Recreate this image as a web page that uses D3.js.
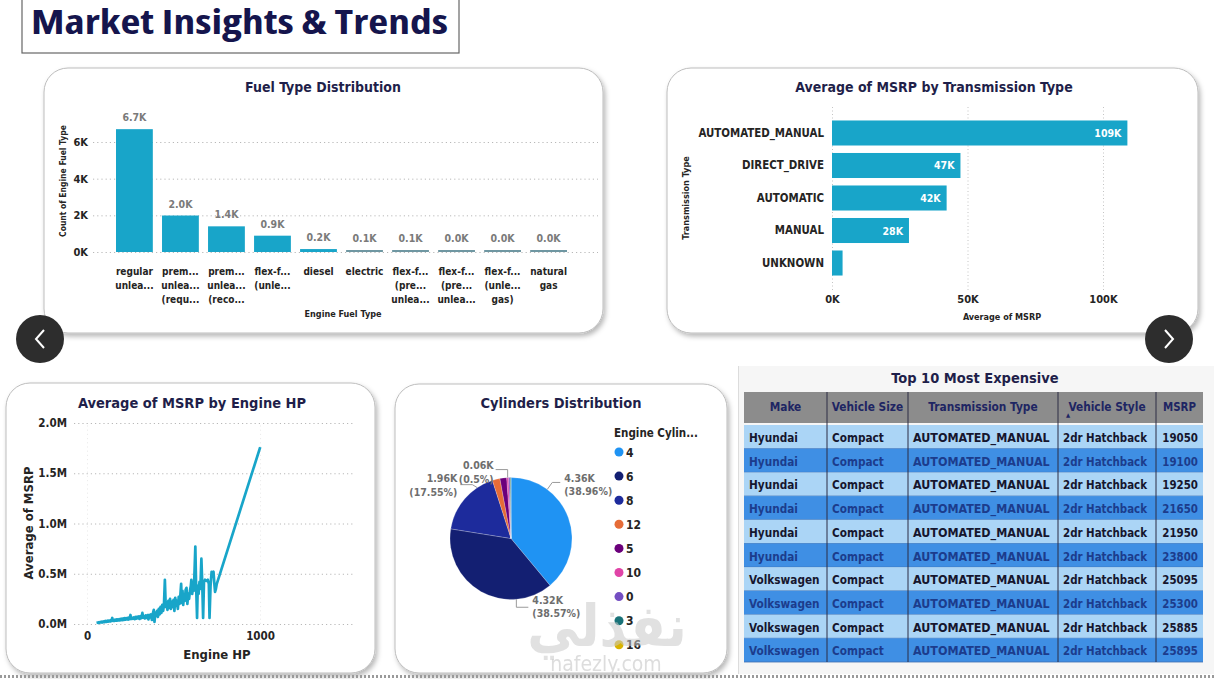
<!DOCTYPE html>
<html><head><meta charset="utf-8">
<script src="https://cdn.jsdelivr.net/npm/d3@7"></script>
<style>
body{margin:0;background:#fff;}
svg{display:block;font-family:"DejaVu Sans Condensed","DejaVu Sans",sans-serif;font-stretch:condensed;}
</style></head><body>
<svg id="c" width="1214" height="679"></svg>
<script>
// ---------------- DATA ----------------
const fuelTypes = ["regular unleaded","premium unleaded (required)","premium unleaded (recommended)","flex-fuel (unleaded/E85)","diesel","electric","flex-fuel (premium unleaded required/E85)","flex-fuel (premium unleaded recommended/E85)","flex-fuel (unleaded/natural gas)","natural gas"];
const fuelTickLabels = [["regular","unlea..."],["prem...","unlea...","(requ..."],["prem...","unlea...","(reco..."],["flex-f...","(unle..."],["diesel"],["electric"],["flex-f...","(pre...","unlea..."],["flex-f...","(pre...","unlea..."],["flex-f...","(unle...","gas)"],["natural","gas"]];
const fuelCounts = [6700, 1990, 1400, 890, 160, 70, 55, 24, 6, 2];
const fuelTicks = [0, 2000, 4000, 6000];

const transTypes = ["AUTOMATED_MANUAL","DIRECT_DRIVE","AUTOMATIC","MANUAL","UNKNOWN"];
const transMsrp = [109000, 47400, 42300, 28400, 3900];
const transTicks = [0, 50000, 100000];

const hpValues = [55,63,66,70,74,78,82,85,88,92,95,98,100,103,106,109,112,115,118,121,124,127,130,134,138,142,146,150,154,158,162,166,170,174,178,182,186,190,194,198,202,206,210,214,218,222,226,230,234,238,242,246,251,255,260,265,270,275,280,285,290,295,300,305,310,315,320,325,330,335,340,345,350,355,360,365,370,375,380,386,390,395,400,405,410,415,420,425,430,435,440,445,450,455,460,465,470,475,480,485,490,495,500,505,510,515,520,525,530,535,540,544,548,552,556,560,565,570,575,580,585,590,595,600,603,608,612,616,620,626,630,636,640,645,650,655,661,666,671,676,682,690,698,704,708,714,720,726,731,736,740,745,750,1001];
const hpMsrpK = [12,15,10,18,14,20,16,22,15,24,19,26,18,27,21,30,22,29,24,32,25,33,26,35,27,38,60,30,40,31,42,33,45,34,46,36,48,37,50,38,52,40,55,42,57,44,58,46,60,45,62,48,90,50,64,52,66,48,70,54,72,56,75,50,78,60,110,62,80,55,85,60,88,45,90,65,95,40,100,140,20,110,80,130,70,150,95,170,110,190,130,200,440,170,210,140,230,160,250,150,220,170,240,130,260,180,230,150,270,200,300,400,210,330,190,280,230,340,360,200,300,250,330,380,440,300,420,330,450,770,420,60,380,300,420,350,650,400,60,420,440,430,440,400,60,380,520,500,520,400,320,350,400,1760];
const hpXTicks = [0, 1000];
const hpYTicks = [0, 500000, 1000000, 1500000, 2000000];

const cylinders = ["4","6","8","12","5","10","0","3","16"];
const cylCounts = [4360, 4316, 1964, 225, 200, 56, 42, 25, 3];
const cylColors = ["#1f93f3","#131f72","#1d2b9c","#e66c37","#6b007b","#e044a7","#744ec2","#197278","#d9b300"];

const tableColumns = ["Make","Vehicle Size","Transmission Type","Vehicle Style","MSRP"];
const tableMake = ["Hyundai","Hyundai","Hyundai","Hyundai","Hyundai","Hyundai","Volkswagen","Volkswagen","Volkswagen","Volkswagen"];
const tableSize = ["Compact","Compact","Compact","Compact","Compact","Compact","Compact","Compact","Compact","Compact"];
const tableTrans = ["AUTOMATED_MANUAL","AUTOMATED_MANUAL","AUTOMATED_MANUAL","AUTOMATED_MANUAL","AUTOMATED_MANUAL","AUTOMATED_MANUAL","AUTOMATED_MANUAL","AUTOMATED_MANUAL","AUTOMATED_MANUAL","AUTOMATED_MANUAL"];
const tableStyle = ["2dr Hatchback","2dr Hatchback","2dr Hatchback","2dr Hatchback","2dr Hatchback","2dr Hatchback","2dr Hatchback","2dr Hatchback","2dr Hatchback","2dr Hatchback"];
const tableMsrp = [19050, 19100, 19250, 21650, 21950, 23800, 25095, 25300, 25885, 25895];

// ---------------- STYLE ----------------
const FONT = '"DejaVu Sans Condensed","DejaVu Sans",sans-serif';
const DARK = "#252423", TITLE = "#1f1f4a", BAR = "#18a5c9";
const svg = d3.select("#c");
const defs = svg.append("defs");
const flt = defs.append("filter").attr("id","sh").attr("x","-5%").attr("y","-5%").attr("width","112%").attr("height","116%");
flt.append("feDropShadow").attr("dx",2).attr("dy",3).attr("stdDeviation",2.5).attr("flood-color","#000").attr("flood-opacity",0.28);

function panel(x,y,w,h){
  svg.append("rect").attr("x",x).attr("y",y).attr("width",w).attr("height",h).attr("rx",24)
    .attr("fill","#fff").attr("stroke","#bdbdbd").attr("stroke-width",1).attr("filter","url(#sh)");
}
function txt(g,x,y,s,size,opts={}){
  return g.append("text").attr("x",x).attr("y",y).text(s).attr("font-size",size)
    .attr("font-weight",opts.w||700).attr("fill",opts.fill||DARK).attr("text-anchor",opts.anchor||"start")
    .attr("font-family",FONT);
}
function styleAxis(a,size,grid){
  a.select(".domain").remove();
  a.attr("font-family",FONT);
  a.selectAll(".tick line").attr("stroke",grid||"#b8b8b8").attr("stroke-dasharray","1.2,3");
  a.selectAll(".tick text").attr("font-size",size).attr("font-weight",700).attr("fill",DARK);
}

// ---------------- HEADER ----------------
svg.append("rect").attr("x",22).attr("y",-2).attr("width",437).attr("height",55).attr("fill","#fff").attr("stroke","#666").attr("stroke-width",1.2);
svg.append("text").attr("x",31).attr("y",34).text("Market Insights & Trends")
  .attr("font-family","'Open Sans','Noto Sans',sans-serif").attr("font-weight",700).attr("font-size",33)
  .attr("fill","#15154d").attr("textLength",417).attr("lengthAdjust","spacingAndGlyphs");

// ---------------- FUEL TYPE ----------------
panel(44,68,559,265);
const g1 = svg.append("g");
txt(g1,323,92,"Fuel Type Distribution",14,{anchor:"middle",fill:TITLE});
const fx = d3.scaleBand().domain(fuelTypes).range([116,567]).paddingInner(0.2);
const fy = d3.scaleLinear().domain([0,6000]).range([252,142]);
const fAy = g1.append("g").attr("transform","translate(93,0)")
  .call(d3.axisLeft(fy).tickValues(fuelTicks).tickFormat(d=>d/1000+"K").tickSize(-505).tickPadding(5));
styleAxis(fAy,11);
g1.selectAll("rect.bar").data(fuelTypes).join("rect").attr("class","bar")
  .attr("x",d=>fx(d)).attr("width",fx.bandwidth())
  .attr("y",(d,i)=>Math.min(fy(fuelCounts[i]),fy(0)-2)).attr("height",(d,i)=>Math.max(fy(0)-fy(fuelCounts[i]),2))
  .attr("fill",(d,i)=>fuelCounts[i]>100?BAR:"#6f97a2");
g1.selectAll("text.val").data(fuelTypes).join("text").attr("class","val")
  .attr("x",d=>fx(d)+fx.bandwidth()/2).attr("y",(d,i)=>Math.min(fy(fuelCounts[i]),fy(0)-2)-8)
  .attr("text-anchor","middle").attr("font-size",10.5).attr("font-weight",700).attr("fill","#7a7a7a").attr("font-family",FONT)
  .text((d,i)=>d3.format(".1f")(fuelCounts[i]/1000)+"K");
const fAx = g1.append("g").attr("transform","translate(0,252)")
  .call(d3.axisBottom(fx).tickSize(0).tickPadding(0).tickFormat(""));
fAx.select(".domain").remove();
fAx.selectAll(".tick").each(function(d,i){
  const t = d3.select(this).append("text").attr("font-family",FONT).attr("font-size",10).attr("font-weight",700)
    .attr("fill",DARK).attr("text-anchor","middle");
  fuelTickLabels[i].forEach((s,j)=>t.append("tspan").attr("x",0).attr("y",23+j*14.2).text(s));
});
txt(g1,343,317,"Engine Fuel Type",9,{anchor:"middle"});
txt(g1,0,0,"Count of Engine Fuel Type",8.5,{anchor:"middle"}).attr("transform","translate(66,181) rotate(-90)");

// ---------------- TRANSMISSION ----------------
panel(667,68,531,265);
const g2 = svg.append("g");
txt(g2,934,92,"Average of MSRP by Transmission Type",14,{anchor:"middle",fill:TITLE});
const tx = d3.scaleLinear().domain([0,100000]).range([832,1103]);
const ty = d3.scaleBand().domain(transTypes).range([113,283]).padding(0.23);
const tAx = g2.append("g").attr("transform","translate(0,290)")
  .call(d3.axisBottom(tx).tickValues(transTicks).tickFormat(d=>d/1000+"K").tickSize(-183).tickPadding(5));
styleAxis(tAx,11);
tAx.selectAll(".tick line").attr("stroke","#c4c4c4").attr("stroke-dasharray","1,2.5");
g2.selectAll("rect.bar").data(transTypes).join("rect").attr("class","bar")
  .attr("x",tx(0)).attr("y",d=>ty(d)).attr("height",ty.bandwidth())
  .attr("width",(d,i)=>tx(transMsrp[i])-tx(0)).attr("fill",BAR);
const tAy = g2.append("g").attr("transform","translate(832,0)")
  .call(d3.axisLeft(ty).tickSize(0).tickPadding(8));
tAy.select(".domain").remove();
tAy.selectAll(".tick text").attr("font-size",11.4).attr("font-weight",700).attr("fill",DARK).attr("font-family",FONT);
g2.selectAll("text.val").data(transTypes.filter((d,i)=>transMsrp[i]>10000)).join("text").attr("class","val")
  .attr("x",d=>tx(transMsrp[transTypes.indexOf(d)])-6).attr("y",d=>ty(d)+ty.bandwidth()/2+4)
  .attr("text-anchor","end").attr("font-size",10.5).attr("font-weight",700).attr("fill","#fff").attr("font-family",FONT)
  .text(d=>d3.format(".0f")(transMsrp[transTypes.indexOf(d)]/1000)+"K");
txt(g2,1002,320,"Average of MSRP",9,{anchor:"middle"});
txt(g2,0,0,"Transmission Type",9,{anchor:"middle"}).attr("transform","translate(689,198) rotate(-90)");

// ---------------- LINE: ENGINE HP ----------------
panel(6,383,369,290);
const g3 = svg.append("g");
txt(g3,192,408,"Average of MSRP by Engine HP",14.5,{anchor:"middle",fill:TITLE});
const hx = d3.scaleLinear().domain([0,1540]).range([87,353.5]);
const hy = d3.scaleLinear().domain([0,2000000]).range([624,423]);
const hAx = g3.append("g").attr("transform","translate(0,624)")
  .call(d3.axisBottom(hx).tickValues(hpXTicks).tickFormat(d3.format("d")).tickSize(-201).tickPadding(8));
styleAxis(hAx,11.5,"#ececec");
const hAy = g3.append("g").attr("transform","translate(74,0)")
  .call(d3.axisLeft(hy).tickValues(hpYTicks).tickFormat(d=>d3.format(".1f")(d/1e6)+"M").tickSize(-279).tickPadding(7));
styleAxis(hAy,11.5);
const hpPts = hpValues.map((v,i)=>[v,hpMsrpK[i]*1000]);
g3.append("path").datum(hpPts).attr("fill","none").attr("stroke",BAR).attr("stroke-width",2.7)
  .attr("stroke-linejoin","round")
  .attr("d",d3.line().x(d=>hx(d[0])).y(d=>hy(d[1])));
txt(g3,217,659,"Engine HP",13,{anchor:"middle"});
txt(g3,0,0,"Average of MSRP",13,{anchor:"middle"}).attr("transform","translate(33,523) rotate(-90)");

// ---------------- PIE: CYLINDERS ----------------
panel(395,384,332,289);
const g4 = svg.append("g");
txt(g4,561,408,"Cylinders Distribution",14.5,{anchor:"middle",fill:TITLE});
const cx = 511, cy = 538.5, R = 61;
const pieData = d3.pie().sort(null).value(d=>d)(cylCounts);
const arc = d3.arc().innerRadius(0).outerRadius(R);
const pg = g4.append("g").attr("transform",`translate(${cx},${cy})`);
pg.selectAll("path").data(pieData).join("path").attr("d",arc)
  .attr("fill",(d,i)=>cylColors[i]).attr("stroke","#ffffff").attr("stroke-opacity",0.35).attr("stroke-width",0.6);
const total = d3.sum(cylCounts);
const labelLayout = {
  "4": {frac:0.26, dx:5, dy:-7, hx:8, anchor:"start", tdx:4, ty:[0,13]},
  "6": {frac:0.25, dx:0, dy:8, hx:12, anchor:"start", tdx:4, ty:[-3,10]},
  "8": {frac:0.75, dx:-5, dy:-3, hx:-12, anchor:"end", tdx:-3, ty:[-3,11]},
  "10":{frac:0.5, dx:0, dy:-8, hx:-12, anchor:"end", tdx:-2, ty:[-1,13]}
};
pieData.forEach((d,i)=>{
  const L = labelLayout[cylinders[i]]; if(!L) return;
  const a = d.startAngle + L.frac*(d.endAngle-d.startAngle);
  const p0 = [Math.sin(a)*R, -Math.cos(a)*R];
  const p1 = [p0[0]+L.dx, p0[1]+L.dy];
  const p2 = [p1[0]+L.hx, p1[1]];
  pg.append("polyline").attr("points",[p0,p1,p2].map(p=>p.join(",")).join(" "))
    .attr("fill","none").attr("stroke","#9a9a9a").attr("stroke-width",1);
  const t = pg.append("text").attr("font-family",FONT).attr("font-size",10.5).attr("font-weight",700)
    .attr("fill","#6e6e6e").attr("text-anchor",L.anchor);
  t.append("tspan").attr("x",p2[0]+L.tdx).attr("y",p2[1]+L.ty[0]).text(d3.format(".2f")(cylCounts[i]/1000)+"K");
  t.append("tspan").attr("x",p2[0]+L.tdx).attr("y",p2[1]+L.ty[1]).text("("+d3.format(".2~%")(cylCounts[i]/total)+")");
});
txt(g4,614,437,"Engine Cylin...",11.5,{});
const lg = g4.selectAll("g.leg").data(cylinders).join("g").attr("class","leg")
  .attr("transform",(d,i)=>`translate(619,${452+i*24.1})`);
lg.append("circle").attr("r",4.5).attr("fill",(d,i)=>cylColors[i]);
lg.append("text").attr("x",7).attr("y",4.5).text(d=>d).attr("font-size",12).attr("font-weight",700).attr("fill",DARK).attr("font-family",FONT);

// ---------------- TABLE ----------------
svg.append("rect").attr("x",738).attr("y",366).attr("width",476).attr("height",308).attr("fill","#f6f6f6");
svg.append("line").attr("x1",738.5).attr("x2",738.5).attr("y1",366).attr("y2",674).attr("stroke","#dcdcdc");
const g5 = svg.append("g");
txt(g5,975,383,"Top 10 Most Expensive",14.5,{anchor:"middle",fill:TITLE});
const colEdges = [744,827,908,1058,1156,1203];
const colFont = [11.7,11.7,12.4,11.4,11.4];
const rowY = d3.scaleBand().domain(d3.range(tableMake.length)).range([425,662]);
g5.append("rect").attr("x",colEdges[0]).attr("y",392).attr("width",colEdges[5]-colEdges[0]).attr("height",31).attr("fill","#8c8c8c");
tableColumns.forEach((c,j)=>{
  txt(g5,(colEdges[j]+colEdges[j+1])/2,411,c,j===4?11.4:11.8,{anchor:"middle",fill:"#1e2563"});
});
txt(g5,1068,417,"▲",6,{anchor:"middle",fill:"#1e2563"});
const cols = [tableMake,tableSize,tableTrans,tableStyle,tableMsrp];
tableMake.forEach((m,i)=>{
  const y = rowY(i), h = rowY.bandwidth(), odd = i%2===1;
  g5.append("rect").attr("x",colEdges[0]).attr("y",y).attr("width",colEdges[5]-colEdges[0]).attr("height",h)
    .attr("fill",odd?"#3f8fe4":"#abd5f6");
  g5.append("line").attr("x1",colEdges[0]).attr("x2",colEdges[5]).attr("y1",y+h).attr("y2",y+h).attr("stroke","#3f6fb0").attr("stroke-width",0.8);
  cols.forEach((arr,j)=>{
    const last = j===cols.length-1;
    txt(g5,last?colEdges[j+1]-5:colEdges[j]+5,y+17,String(arr[i]),colFont[j],{anchor:last?"end":"start",fill:odd?"#1c3c8c":"#16162e"});
  });
});
colEdges.slice(1,5).forEach(x=>{
  g5.append("line").attr("x1",x).attr("x2",x).attr("y1",392).attr("y2",662).attr("stroke","#2c2c44").attr("stroke-width",1);
});

// ---------------- NAV BUTTONS & WATERMARK ----------------
[[40,339,1],[1169,339,-1]].forEach(([x,y,s])=>{
  svg.append("circle").attr("cx",x).attr("cy",y).attr("r",24).attr("fill","#2d2d2d");
  svg.append("polyline").attr("points",`${x+4*s},${y-9} ${x-4*s},${y} ${x+4*s},${y+9}`)
    .attr("fill","none").attr("stroke","#fff").attr("stroke-width",2);
});
svg.append("line").attr("x1",0).attr("x2",1214).attr("y1",676.5).attr("y2",676.5).attr("stroke","#9a9a9a").attr("stroke-width",3).attr("stroke-dasharray","2,2");
svg.append("text").attr("x",607).attr("y",646).attr("text-anchor","middle").attr("font-family","'DejaVu Sans',sans-serif")
  .attr("font-size",58).attr("font-weight",700).attr("fill","#c9c9c9").attr("opacity",0.55).text("نفذلي");
svg.append("text").attr("x",606).attr("y",671).attr("text-anchor","middle").attr("font-family","'DejaVu Sans',sans-serif")
  .attr("font-size",21).attr("fill","#cfcfcf").attr("opacity",0.7).text("nafezly.com");
</script>
</body></html>
